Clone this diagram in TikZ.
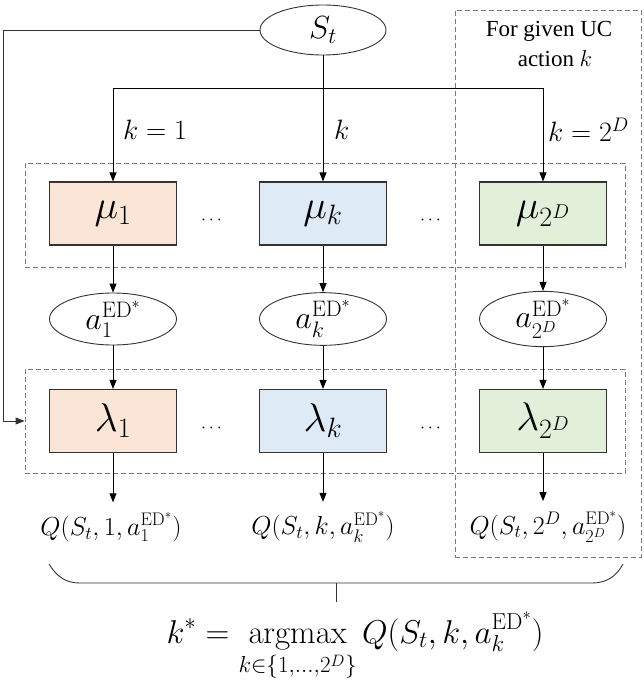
\documentclass[tikz,border=0pt]{standalone}
\usepackage{fix-cm}
\usepackage{amsmath, amssymb}
\usepackage[no-math]{fontspec}
\newfontfamily\timesfont{Liberation Serif}
\usepackage{xcolor}
\usepackage{tikz}
\usetikzlibrary{arrows.meta, positioning, calc, shapes.geometric}
\definecolor{ucpeach}{RGB}{251,229,214}
\definecolor{ucblue}{RGB}{222,235,247}
\definecolor{ucgreen}{RGB}{226,240,217}
\definecolor{ucgrey}{RGB}{120,120,120}
\newcommand{\edstar}{\mathrm{ED}^{*}}

\begin{document}
\begin{tikzpicture}[x=1pt,y=-1pt,every node/.style={inner sep=0pt},
    netbox/.style={draw=black!80,line width=1.1pt,minimum width=127pt,minimum height=63pt,
                   font=\fontsize{40}{42}\selectfont},
    estnode/.style={draw=black!80,line width=0.9pt,ellipse,minimum width=127pt,minimum height=52pt,
                    font=\fontsize{32}{34}\selectfont},
    grpbox/.style={draw=ucgrey,line width=0.9pt,dash pattern=on 5pt off 3pt},
    qlabel/.style={font=\fontsize{26}{30}\selectfont,outer ysep=10pt},
    klabel/.style={font=\fontsize{28}{30}\selectfont,anchor=west},
    gap/.style={font=\fontsize{18}{20}\selectfont},
    arr/.style={-{Triangle[length=9pt,width=7pt]},line width=0.9pt}]
  \useasboundingbox (0,0) rectangle (644,685);
  % state
  \node[estnode,minimum width=126pt,minimum height=50pt] (st) at (323,30) {$S_t$};
  % group frames
  \node[grpbox,minimum width=600pt,minimum height=104pt] (mugrp) at (325,215) {};
  \node[grpbox,minimum width=600pt,minimum height=104pt] (lamgrp) at (325,421) {};
  \node[grpbox,minimum width=186pt,minimum height=547pt] (ucgrp) at (548,283.5) {};
  \node[font=\timesfont\fontsize{23}{30}\selectfont,align=center] (uctxt) at (549,44)
       {For given UC\\ \hspace*{12pt}action $k$};
  % actor networks
  \node[netbox,fill=ucpeach] (mu1) at (113,213.5) {$\mu_1$};
  \node[netbox,fill=ucblue] (muk) at (323,213.5) {$\mu_k$};
  \node[netbox,fill=ucgreen] (muD) at (543,213.5) {$\mu_{2^D}$};
  \node[gap] (mudots1) at (213,220) {$\cdots$};
  \node[gap] (mudots2) at (432,220) {$\cdots$};
  % actions
  \node[estnode] (a1) at (113,319) {$a_1^{\edstar}$};
  \node[estnode] (ak) at (323,319) {$a_k^{\edstar}$};
  \node[estnode] (aD) at (543,319) {$a_{2^D}^{\edstar}$};
  % critic networks
  \node[netbox,fill=ucpeach] (lam1) at (113,421) {$\lambda_1$};
  \node[netbox,fill=ucblue] (lamk) at (323,421) {$\lambda_k$};
  \node[netbox,fill=ucgreen] (lamD) at (543,421) {$\lambda_{2^D}$};
  \node[gap] (lamdots1) at (213,428) {$\cdots$};
  \node[gap] (lamdots2) at (432,428) {$\cdots$};
  % q values
  \node[qlabel] (q1) at (111,527) {$Q(S_t,1,a_1^{\edstar})$};
  \node[qlabel] (qk) at (323,527) {$Q(S_t,k,a_k^{\edstar})$};
  \node[qlabel] (qD) at (548,527) {$Q(S_t,2^D,a_{2^D}^{\edstar})$};
  % branch labels
  \node[klabel] (k1) at (123,130) {$k=1$};
  \node[klabel] (kk) at (334,130) {$k$};
  \node[klabel] (kD) at (548,130) {$k=2^D$};
  % connectors
  \coordinate (br) at (323,88);
  \coordinate (lft) at (3,30);
  \draw[line width=0.9pt] (st.south) -- (br);
  \draw[arr] (br) -| (mu1.north);
  \draw[arr] (br) -- (muk.north);
  \draw[arr] (br) -| (muD.north);
  \draw[arr,black!80] (st.west) -- (lft) |- (lamgrp.west);
  \foreach \n in {1,k,D} {
    \draw[arr] (mu\n) -- (a\n);
    \draw[arr] (a\n) -- (lam\n);
    \draw[arr] (lam\n) -- (lam\n |- q\n.north);
  }
  % selection
  \coordinate (brc) at (336,583);
  \draw[line width=0.9pt,black!80] (49,564) .. controls (57,577) and (66,583) .. (80,583) -- (592,583)
        .. controls (606,583) and (616,577) .. (623,564);
  \node[font=\fontsize{33}{36}\selectfont,anchor=base] (kstar) at (355,643)
       {$\displaystyle k^*=\operatorname*{argmax}_{k\in\{1,\dots,2^D\}}Q(S_t,k,a_k^{\edstar})$};
  \draw[line width=0.9pt,black!80] (brc) -- (336,602);
\end{tikzpicture}
\end{document}
